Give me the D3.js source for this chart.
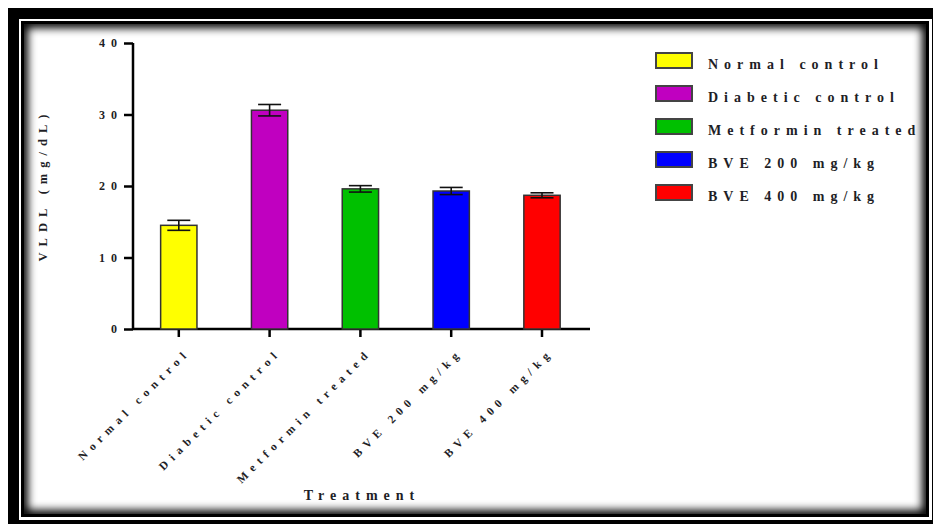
<!DOCTYPE html>
<html>
<head>
<meta charset="utf-8">
<script src="https://cdn.jsdelivr.net/npm/d3@7"></script>
<style>
    body { margin: 0; background: #ffffff; }
    svg { display: block; }
    .lbl { font-family: "Liberation Serif", "Times New Roman", serif; font-weight: bold; fill: #1e1e26; }
</style>
</head>
<body>
<svg id="chartSvg" width="933" height="524"></svg>
<script>
// values
let categories = ["Normal control", "Diabetic control", "Metformin treated", "BVE 200 mg/kg", "BVE 400 mg/kg"];
let means = [14.5, 30.6, 19.6, 19.3, 18.7];
let sems = [0.7, 0.8, 0.45, 0.5, 0.35];
let colors = ["#ffff00", "#c000c0", "#00c000", "#0000ff", "#ff0000"];
let yTicks = [0, 10, 20, 30, 40];

function drawChart() {
    let canvas = d3.select("#chartSvg");

    let data = categories.map((c, i) => {
        return { name: c, mean: means[i], sem: sems[i], color: colors[i] };
    });

    // frame
    let defs = canvas.append("defs");
    defs.append("clipPath")
        .attr("id", "innerClip")
        .append("rect")
        .attr("x", 24).attr("y", 24)
        .attr("width", 902).attr("height", 490);
    defs.append("filter")
        .attr("id", "soft")
        .attr("x", "-5%").attr("y", "-5%")
        .attr("width", "110%").attr("height", "110%")
        .append("feGaussianBlur")
        .attr("stdDeviation", 4);

    canvas.append("rect")
        .attr("x", 13.5).attr("y", 13.5)
        .attr("width", 924).attr("height", 512)
        .attr("fill", "none")
        .attr("stroke", "#000")
        .attr("stroke-width", 11);

    canvas.append("g")
        .attr("clip-path", "url(#innerClip)")
        .append("rect")
        .attr("x", 22).attr("y", 22)
        .attr("width", 906).attr("height", 494)
        .attr("fill", "none")
        .attr("stroke", "#000")
        .attr("stroke-width", 12)
        .attr("filter", "url(#soft)");

    canvas.append("rect")
        .attr("x", 22.5).attr("y", 22.5)
        .attr("width", 905).attr("height", 493)
        .attr("fill", "none")
        .attr("stroke", "#000")
        .attr("stroke-width", 3);

    // scales
    let left = 133;
    let axisEnd = 590;
    let y = d3.scaleLinear()
        .domain([0, 40])
        .range([329, 43]);
    let x = d3.scaleBand()
        .domain(categories)
        .range([133.4, 587.4])
        .paddingInner(0.6)
        .paddingOuter(0.3);

    let yAxis = d3.axisLeft(y)
        .tickValues(yTicks)
        .tickSize(9)
        .tickPadding(7);

    let yG = canvas.append("g")
        .attr("id", "yAxis")
        .attr("transform", "translate(" + left + ",0)")
        .call(yAxis);
    yG.select(".domain").attr("stroke-width", 2.5).attr("d", "M0," + y(40) + "V" + y(0));
    yG.selectAll(".tick line").attr("stroke-width", 2.5);
    yG.selectAll(".tick text")
        .attr("class", "lbl")
        .attr("font-size", 12)
        .attr("letter-spacing", 6)
        .attr("dx", 6);

    let xAxis = d3.axisBottom(x)
        .tickSize(8)
        .tickFormat("");
    let xG = canvas.append("g")
        .attr("id", "xAxis")
        .attr("transform", "translate(0," + y(0) + ")")
        .call(xAxis);
    xG.select(".domain").attr("stroke-width", 2.5).attr("d", "M" + left + ",0H" + axisEnd);
    xG.selectAll(".tick line").attr("stroke-width", 2.5);

    // rotated category labels
    canvas.append("g")
        .selectAll("text")
        .data(data)
        .enter()
        .append("text")
        .attr("class", "lbl")
        .attr("font-size", 11.5)
        .attr("letter-spacing", 5.5)
        .attr("text-anchor", "end")
        .attr("dx", 5.5)
        .attr("transform", d => { return "translate(" + (x(d.name) + x.bandwidth() / 2 + 8) + "," + (y(0) + 28) + ") rotate(-45)"; })
        .text(d => { return d.name; });

    // bars
    canvas.selectAll(".bar")
        .data(data)
        .enter()
        .append("rect")
        .attr("class", "bar")
        .attr("x", d => { return x(d.name); })
        .attr("width", x.bandwidth())
        .attr("y", d => { return y(d.mean); })
        .attr("height", d => { return y(0) - y(d.mean); })
        .attr("fill", d => { return d.color; })
        .attr("stroke", "#333")
        .attr("stroke-width", 1.5);

    // error bars
    let capW = 11.5;
    let err = canvas.selectAll(".err")
        .data(data)
        .enter()
        .append("g")
        .attr("class", "err")
        .attr("stroke", "#111")
        .attr("stroke-width", 1.6);
    err.append("line")
        .attr("x1", d => { return x(d.name) + x.bandwidth() / 2; })
        .attr("x2", d => { return x(d.name) + x.bandwidth() / 2; })
        .attr("y1", d => { return y(d.mean + d.sem); })
        .attr("y2", d => { return y(d.mean - d.sem); });
    err.append("line")
        .attr("x1", d => { return x(d.name) + x.bandwidth() / 2 - capW; })
        .attr("x2", d => { return x(d.name) + x.bandwidth() / 2 + capW; })
        .attr("y1", d => { return y(d.mean + d.sem); })
        .attr("y2", d => { return y(d.mean + d.sem); });
    err.append("line")
        .attr("x1", d => { return x(d.name) + x.bandwidth() / 2 - capW; })
        .attr("x2", d => { return x(d.name) + x.bandwidth() / 2 + capW; })
        .attr("y1", d => { return y(d.mean - d.sem); })
        .attr("y2", d => { return y(d.mean - d.sem); });

    // axis titles
    canvas.append("text")
        .attr("class", "lbl")
        .attr("font-size", 12.5)
        .attr("letter-spacing", 6)
        .attr("text-anchor", "middle")
        .attr("transform", "translate(47,185) rotate(-90)")
        .text("VLDL (mg/dL)");

    canvas.append("text")
        .attr("class", "lbl")
        .attr("font-size", 14)
        .attr("letter-spacing", 6)
        .attr("text-anchor", "middle")
        .attr("x", 362)
        .attr("y", 500)
        .text("Treatment");

    // legend
    let legend = canvas.append("g")
        .attr("transform", "translate(656,53)");
    let rows = legend.selectAll("g")
        .data(data)
        .enter()
        .append("g")
        .attr("transform", (d, i) => { return "translate(0," + (i * 33) + ")"; });
    rows.append("rect")
        .attr("width", 36)
        .attr("height", 15)
        .attr("fill", d => { return d.color; })
        .attr("stroke", "#444")
        .attr("stroke-width", 2);
    rows.append("text")
        .attr("class", "lbl")
        .attr("font-size", 14)
        .attr("letter-spacing", 6)
        .attr("x", 52)
        .attr("y", 16)
        .text(d => { return d.name; });
}

drawChart();
</script>
</body>
</html>
